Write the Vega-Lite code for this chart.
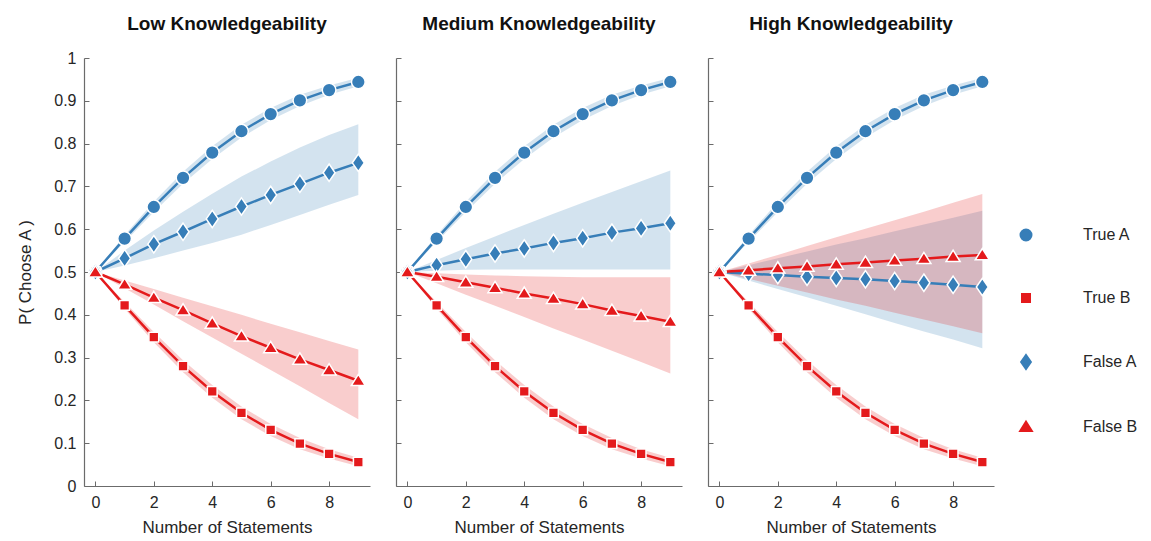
{
  "$schema": "https://vega.github.io/schema/vega-lite/v6.json",
  "padding": {"left": 16, "top": 14, "right": 5, "bottom": 5},
  "background": "white",
  "config": {
    "view": {"stroke": null},
    "axis": {"domainColor": "#6b6b6b", "tickColor": "#6b6b6b", "grid": false, "labelFont": "Liberation Sans", "labelFontSize": 16, "labelColor": "#262626", "titleFont": "Liberation Sans", "titleFontSize": 17, "titleFontWeight": "normal", "titleColor": "#262626", "tickSize": -5, "labelPadding": 13, "domainWidth": 1.2},
    "axisX": {"titlePadding": 9},
    "title": {"font": "Liberation Sans", "fontSize": 19, "fontWeight": "bold", "color": "#111111", "offset": 24, "frame": "group"}
  },
  "data": {"values": [
    {"p":"Low","s":"True A","x":0,"y":0.5,"lo":0.5,"hi":0.5},
    {"p":"Low","s":"True A","x":1,"y":0.578,"lo":0.570,"hi":0.586},
    {"p":"Low","s":"True A","x":2,"y":0.652,"lo":0.640,"hi":0.664},
    {"p":"Low","s":"True A","x":3,"y":0.720,"lo":0.706,"hi":0.734},
    {"p":"Low","s":"True A","x":4,"y":0.779,"lo":0.764,"hi":0.794},
    {"p":"Low","s":"True A","x":5,"y":0.829,"lo":0.814,"hi":0.844},
    {"p":"Low","s":"True A","x":6,"y":0.869,"lo":0.855,"hi":0.883},
    {"p":"Low","s":"True A","x":7,"y":0.901,"lo":0.888,"hi":0.914},
    {"p":"Low","s":"True A","x":8,"y":0.925,"lo":0.914,"hi":0.936},
    {"p":"Low","s":"True A","x":9,"y":0.944,"lo":0.934,"hi":0.954},
    {"p":"Low","s":"True B","x":0,"y":0.5,"lo":0.5,"hi":0.5},
    {"p":"Low","s":"True B","x":1,"y":0.422,"lo":0.414,"hi":0.430},
    {"p":"Low","s":"True B","x":2,"y":0.348,"lo":0.336,"hi":0.360},
    {"p":"Low","s":"True B","x":3,"y":0.280,"lo":0.266,"hi":0.294},
    {"p":"Low","s":"True B","x":4,"y":0.221,"lo":0.206,"hi":0.236},
    {"p":"Low","s":"True B","x":5,"y":0.171,"lo":0.156,"hi":0.186},
    {"p":"Low","s":"True B","x":6,"y":0.131,"lo":0.117,"hi":0.145},
    {"p":"Low","s":"True B","x":7,"y":0.099,"lo":0.086,"hi":0.112},
    {"p":"Low","s":"True B","x":8,"y":0.075,"lo":0.064,"hi":0.086},
    {"p":"Low","s":"True B","x":9,"y":0.056,"lo":0.046,"hi":0.066},
    {"p":"Low","s":"False A","x":0,"y":0.5,"lo":0.5,"hi":0.5},
    {"p":"Low","s":"False A","x":1,"y":0.532,"lo":0.515,"hi":0.550},
    {"p":"Low","s":"False A","x":2,"y":0.565,"lo":0.532,"hi":0.597},
    {"p":"Low","s":"False A","x":3,"y":0.594,"lo":0.550,"hi":0.641},
    {"p":"Low","s":"False A","x":4,"y":0.624,"lo":0.568,"hi":0.683},
    {"p":"Low","s":"False A","x":5,"y":0.653,"lo":0.587,"hi":0.723},
    {"p":"Low","s":"False A","x":6,"y":0.680,"lo":0.610,"hi":0.758},
    {"p":"Low","s":"False A","x":7,"y":0.706,"lo":0.633,"hi":0.791},
    {"p":"Low","s":"False A","x":8,"y":0.732,"lo":0.657,"hi":0.820},
    {"p":"Low","s":"False A","x":9,"y":0.755,"lo":0.680,"hi":0.845},
    {"p":"Low","s":"False B","x":0,"y":0.5,"lo":0.5,"hi":0.5},
    {"p":"Low","s":"False B","x":1,"y":0.471,"lo":0.462,"hi":0.480},
    {"p":"Low","s":"False B","x":2,"y":0.440,"lo":0.424,"hi":0.460},
    {"p":"Low","s":"False B","x":3,"y":0.411,"lo":0.385,"hi":0.440},
    {"p":"Low","s":"False B","x":4,"y":0.380,"lo":0.347,"hi":0.420},
    {"p":"Low","s":"False B","x":5,"y":0.350,"lo":0.309,"hi":0.400},
    {"p":"Low","s":"False B","x":6,"y":0.323,"lo":0.271,"hi":0.379},
    {"p":"Low","s":"False B","x":7,"y":0.296,"lo":0.233,"hi":0.359},
    {"p":"Low","s":"False B","x":8,"y":0.271,"lo":0.194,"hi":0.339},
    {"p":"Low","s":"False B","x":9,"y":0.246,"lo":0.156,"hi":0.319},

    {"p":"Medium","s":"True A","x":0,"y":0.5,"lo":0.5,"hi":0.5},
    {"p":"Medium","s":"True A","x":1,"y":0.578,"lo":0.570,"hi":0.586},
    {"p":"Medium","s":"True A","x":2,"y":0.652,"lo":0.640,"hi":0.664},
    {"p":"Medium","s":"True A","x":3,"y":0.720,"lo":0.706,"hi":0.734},
    {"p":"Medium","s":"True A","x":4,"y":0.779,"lo":0.764,"hi":0.794},
    {"p":"Medium","s":"True A","x":5,"y":0.829,"lo":0.814,"hi":0.844},
    {"p":"Medium","s":"True A","x":6,"y":0.869,"lo":0.855,"hi":0.883},
    {"p":"Medium","s":"True A","x":7,"y":0.901,"lo":0.888,"hi":0.914},
    {"p":"Medium","s":"True A","x":8,"y":0.925,"lo":0.914,"hi":0.936},
    {"p":"Medium","s":"True A","x":9,"y":0.944,"lo":0.934,"hi":0.954},
    {"p":"Medium","s":"True B","x":0,"y":0.5,"lo":0.5,"hi":0.5},
    {"p":"Medium","s":"True B","x":1,"y":0.422,"lo":0.414,"hi":0.430},
    {"p":"Medium","s":"True B","x":2,"y":0.348,"lo":0.336,"hi":0.360},
    {"p":"Medium","s":"True B","x":3,"y":0.280,"lo":0.266,"hi":0.294},
    {"p":"Medium","s":"True B","x":4,"y":0.221,"lo":0.206,"hi":0.236},
    {"p":"Medium","s":"True B","x":5,"y":0.171,"lo":0.156,"hi":0.186},
    {"p":"Medium","s":"True B","x":6,"y":0.131,"lo":0.117,"hi":0.145},
    {"p":"Medium","s":"True B","x":7,"y":0.099,"lo":0.086,"hi":0.112},
    {"p":"Medium","s":"True B","x":8,"y":0.075,"lo":0.064,"hi":0.086},
    {"p":"Medium","s":"True B","x":9,"y":0.056,"lo":0.046,"hi":0.066},
    {"p":"Medium","s":"False A","x":0,"y":0.5,"lo":0.5,"hi":0.5},
    {"p":"Medium","s":"False A","x":1,"y":0.516,"lo":0.503,"hi":0.528},
    {"p":"Medium","s":"False A","x":2,"y":0.530,"lo":0.505,"hi":0.556},
    {"p":"Medium","s":"False A","x":3,"y":0.543,"lo":0.506,"hi":0.583},
    {"p":"Medium","s":"False A","x":4,"y":0.555,"lo":0.506,"hi":0.610},
    {"p":"Medium","s":"False A","x":5,"y":0.568,"lo":0.506,"hi":0.636},
    {"p":"Medium","s":"False A","x":6,"y":0.579,"lo":0.506,"hi":0.662},
    {"p":"Medium","s":"False A","x":7,"y":0.592,"lo":0.506,"hi":0.687},
    {"p":"Medium","s":"False A","x":8,"y":0.602,"lo":0.506,"hi":0.712},
    {"p":"Medium","s":"False A","x":9,"y":0.614,"lo":0.506,"hi":0.737},
    {"p":"Medium","s":"False B","x":0,"y":0.5,"lo":0.5,"hi":0.5},
    {"p":"Medium","s":"False B","x":1,"y":0.489,"lo":0.474,"hi":0.497},
    {"p":"Medium","s":"False B","x":2,"y":0.476,"lo":0.447,"hi":0.494},
    {"p":"Medium","s":"False B","x":3,"y":0.463,"lo":0.421,"hi":0.492},
    {"p":"Medium","s":"False B","x":4,"y":0.450,"lo":0.395,"hi":0.490},
    {"p":"Medium","s":"False B","x":5,"y":0.438,"lo":0.368,"hi":0.489},
    {"p":"Medium","s":"False B","x":6,"y":0.425,"lo":0.342,"hi":0.488},
    {"p":"Medium","s":"False B","x":7,"y":0.410,"lo":0.316,"hi":0.488},
    {"p":"Medium","s":"False B","x":8,"y":0.397,"lo":0.290,"hi":0.488},
    {"p":"Medium","s":"False B","x":9,"y":0.384,"lo":0.263,"hi":0.488},

    {"p":"High","s":"True A","x":0,"y":0.5,"lo":0.5,"hi":0.5},
    {"p":"High","s":"True A","x":1,"y":0.578,"lo":0.570,"hi":0.586},
    {"p":"High","s":"True A","x":2,"y":0.652,"lo":0.640,"hi":0.664},
    {"p":"High","s":"True A","x":3,"y":0.720,"lo":0.706,"hi":0.734},
    {"p":"High","s":"True A","x":4,"y":0.779,"lo":0.764,"hi":0.794},
    {"p":"High","s":"True A","x":5,"y":0.829,"lo":0.814,"hi":0.844},
    {"p":"High","s":"True A","x":6,"y":0.869,"lo":0.855,"hi":0.883},
    {"p":"High","s":"True A","x":7,"y":0.901,"lo":0.888,"hi":0.914},
    {"p":"High","s":"True A","x":8,"y":0.925,"lo":0.914,"hi":0.936},
    {"p":"High","s":"True A","x":9,"y":0.944,"lo":0.934,"hi":0.954},
    {"p":"High","s":"True B","x":0,"y":0.5,"lo":0.5,"hi":0.5},
    {"p":"High","s":"True B","x":1,"y":0.422,"lo":0.414,"hi":0.430},
    {"p":"High","s":"True B","x":2,"y":0.348,"lo":0.336,"hi":0.360},
    {"p":"High","s":"True B","x":3,"y":0.280,"lo":0.266,"hi":0.294},
    {"p":"High","s":"True B","x":4,"y":0.221,"lo":0.206,"hi":0.236},
    {"p":"High","s":"True B","x":5,"y":0.171,"lo":0.156,"hi":0.186},
    {"p":"High","s":"True B","x":6,"y":0.131,"lo":0.117,"hi":0.145},
    {"p":"High","s":"True B","x":7,"y":0.099,"lo":0.086,"hi":0.112},
    {"p":"High","s":"True B","x":8,"y":0.075,"lo":0.064,"hi":0.086},
    {"p":"High","s":"True B","x":9,"y":0.056,"lo":0.046,"hi":0.066},
    {"p":"High","s":"False A","x":0,"y":0.5,"lo":0.5,"hi":0.5},
    {"p":"High","s":"False A","x":1,"y":0.496,"lo":0.480,"hi":0.516},
    {"p":"High","s":"False A","x":2,"y":0.493,"lo":0.460,"hi":0.532},
    {"p":"High","s":"False A","x":3,"y":0.489,"lo":0.441,"hi":0.548},
    {"p":"High","s":"False A","x":4,"y":0.486,"lo":0.421,"hi":0.564},
    {"p":"High","s":"False A","x":5,"y":0.483,"lo":0.401,"hi":0.579},
    {"p":"High","s":"False A","x":6,"y":0.479,"lo":0.381,"hi":0.595},
    {"p":"High","s":"False A","x":7,"y":0.475,"lo":0.361,"hi":0.611},
    {"p":"High","s":"False A","x":8,"y":0.470,"lo":0.342,"hi":0.627},
    {"p":"High","s":"False A","x":9,"y":0.465,"lo":0.322,"hi":0.643},
    {"p":"High","s":"False B","x":0,"y":0.5,"lo":0.5,"hi":0.5},
    {"p":"High","s":"False B","x":1,"y":0.504,"lo":0.484,"hi":0.520},
    {"p":"High","s":"False B","x":2,"y":0.509,"lo":0.468,"hi":0.540},
    {"p":"High","s":"False B","x":3,"y":0.513,"lo":0.452,"hi":0.561},
    {"p":"High","s":"False B","x":4,"y":0.518,"lo":0.436,"hi":0.581},
    {"p":"High","s":"False B","x":5,"y":0.522,"lo":0.421,"hi":0.601},
    {"p":"High","s":"False B","x":6,"y":0.527,"lo":0.405,"hi":0.621},
    {"p":"High","s":"False B","x":7,"y":0.531,"lo":0.389,"hi":0.641},
    {"p":"High","s":"False B","x":8,"y":0.536,"lo":0.373,"hi":0.662},
    {"p":"High","s":"False B","x":9,"y":0.540,"lo":0.357,"hi":0.682}
  ]},
  "resolve": {"scale": {"color": "shared", "shape": "shared"}, "legend": {"color": "shared", "shape": "shared"}},
  "spacing": 25,
  "hconcat": [
    {
      "title": {"text": "Low Knowledgeability", "offset": 16},
      "width": 286, "height": 428,
      "transform": [{"filter": "datum.p === 'Low'"}],
      "encoding": {
        "x": {"field": "x", "type": "quantitative", "scale": {"domain": [-0.39, 9.4], "nice": false, "zero": false}, "axis": {"values": [0, 2, 4, 6, 8], "title": "Number of Statements"}},
        "color": {"field": "s", "type": "nominal", "scale": {"domain": ["True A", "True B", "False A", "False B"], "range": ["#377eb8", "#e41a1c", "#377eb8", "#e41a1c"]},
          "legend": {"orient": "none", "legendX": 934, "legendY": 169, "title": null, "labelFont": "Liberation Sans", "labelFontSize": 16, "labelColor": "#262626", "symbolSize": 100, "labelOffset": 49, "rowPadding": 43, "symbolStrokeWidth": 2.5,
              "encode": {"symbols": {"update": {
                "shape": {"signal": "datum.value === 'True A' ? 'M-1,0H9M3.25,0A0.75,0.75,0,1,0,4.75,0A0.75,0.75,0,1,0,3.25,0Z' : datum.value === 'True B' ? 'M-1,0H9M3.55,-0.45H4.45V0.45H3.55Z' : datum.value === 'False A' ? 'M-1,0H9M4,-0.95L4.55,0L4,0.95L3.45,0Z' : 'M-1,0H9M4,-0.8L4.9,0.6H3.1Z'"},
                "stroke": {"signal": "(datum.value === 'True A' || datum.value === 'False A') ? '#377eb8' : '#e41a1c'"},
                "fill": {"signal": "(datum.value === 'True A' || datum.value === 'False A') ? '#377eb8' : '#e41a1c'"},
                "strokeWidth": {"value": 2.5},
                "opacity": {"value": 1}
              }}}
            }}
      },
      "layer": [
        {"mark": {"type": "area", "fillOpacity": 0.22}, "encoding": {"y": {"field": "lo", "type": "quantitative", "scale": {"domain": [0, 1], "nice": false}, "axis": {"values": [0, 0.1, 0.2, 0.3, 0.4, 0.5, 0.6, 0.7, 0.8, 0.9, 1], "format": "~g", "title": "P( Choose A )", "titlePadding": 19}}, "y2": {"field": "hi"}}},
        {"mark": {"type": "line", "strokeWidth": 2.5}, "encoding": {"y": {"field": "y", "type": "quantitative"}, "detail": {"field": "s"}}},
        {"mark": {"type": "point", "filled": true, "stroke": "white", "strokeWidth": 1.5, "size": 170, "opacity": 1}, "encoding": {
          "y": {"field": "y", "type": "quantitative"},
          "shape": {"field": "s", "type": "nominal", "legend": null, "scale": {"domain": ["True A", "True B", "False A", "False B"], "range": ["M-1.05,0A1.05,1.05,0,1,0,1.05,0A1.05,1.05,0,1,0,-1.05,0Z", "M-0.75,-0.75H0.75V0.75H-0.75Z", "M0,-1.33L0.92,0L0,1.33L-0.92,0Z", "M0,-0.98L1.08,0.75H-1.08Z"]}}
        }}
      ]
    },
    {
      "title": "Medium Knowledgeability",
      "width": 286, "height": 428,
      "transform": [{"filter": "datum.p === 'Medium'"}],
      "encoding": {
        "x": {"field": "x", "type": "quantitative", "scale": {"domain": [-0.39, 9.4], "nice": false, "zero": false}, "axis": {"values": [0, 2, 4, 6, 8], "title": "Number of Statements"}},
        "color": {"field": "s", "type": "nominal", "scale": {"domain": ["True A", "True B", "False A", "False B"], "range": ["#377eb8", "#e41a1c", "#377eb8", "#e41a1c"]}}
      },
      "layer": [
        {"mark": {"type": "area", "fillOpacity": 0.22}, "encoding": {"y": {"field": "lo", "type": "quantitative", "scale": {"domain": [0, 1], "nice": false}, "axis": {"values": [0, 0.1, 0.2, 0.3, 0.4, 0.5, 0.6, 0.7, 0.8, 0.9, 1], "labels": false, "title": null}}, "y2": {"field": "hi"}}},
        {"mark": {"type": "line", "strokeWidth": 2.5}, "encoding": {"y": {"field": "y", "type": "quantitative"}, "detail": {"field": "s"}}},
        {"mark": {"type": "point", "filled": true, "stroke": "white", "strokeWidth": 1.5, "size": 170, "opacity": 1}, "encoding": {
          "y": {"field": "y", "type": "quantitative"},
          "shape": {"field": "s", "type": "nominal", "legend": null, "scale": {"domain": ["True A", "True B", "False A", "False B"], "range": ["M-1.05,0A1.05,1.05,0,1,0,1.05,0A1.05,1.05,0,1,0,-1.05,0Z", "M-0.75,-0.75H0.75V0.75H-0.75Z", "M0,-1.33L0.92,0L0,1.33L-0.92,0Z", "M0,-0.98L1.08,0.75H-1.08Z"]}}
        }}
      ]
    },
    {
      "title": "High Knowledgeability",
      "width": 286, "height": 428,
      "transform": [{"filter": "datum.p === 'High'"}],
      "encoding": {
        "x": {"field": "x", "type": "quantitative", "scale": {"domain": [-0.39, 9.4], "nice": false, "zero": false}, "axis": {"values": [0, 2, 4, 6, 8], "title": "Number of Statements"}},
        "color": {"field": "s", "type": "nominal", "scale": {"domain": ["True A", "True B", "False A", "False B"], "range": ["#377eb8", "#e41a1c", "#377eb8", "#e41a1c"]}}
      },
      "layer": [
        {"mark": {"type": "area", "fillOpacity": 0.22}, "encoding": {"y": {"field": "lo", "type": "quantitative", "scale": {"domain": [0, 1], "nice": false}, "axis": {"values": [0, 0.1, 0.2, 0.3, 0.4, 0.5, 0.6, 0.7, 0.8, 0.9, 1], "labels": false, "title": null}}, "y2": {"field": "hi"}}},
        {"mark": {"type": "line", "strokeWidth": 2.5}, "encoding": {"y": {"field": "y", "type": "quantitative"}, "detail": {"field": "s"}}},
        {"mark": {"type": "point", "filled": true, "stroke": "white", "strokeWidth": 1.5, "size": 170, "opacity": 1}, "encoding": {
          "y": {"field": "y", "type": "quantitative"},
          "shape": {"field": "s", "type": "nominal", "legend": null, "scale": {"domain": ["True A", "True B", "False A", "False B"], "range": ["M-1.05,0A1.05,1.05,0,1,0,1.05,0A1.05,1.05,0,1,0,-1.05,0Z", "M-0.75,-0.75H0.75V0.75H-0.75Z", "M0,-1.33L0.92,0L0,1.33L-0.92,0Z", "M0,-0.98L1.08,0.75H-1.08Z"]}}
        }}
      ]
    }
  ]
}
